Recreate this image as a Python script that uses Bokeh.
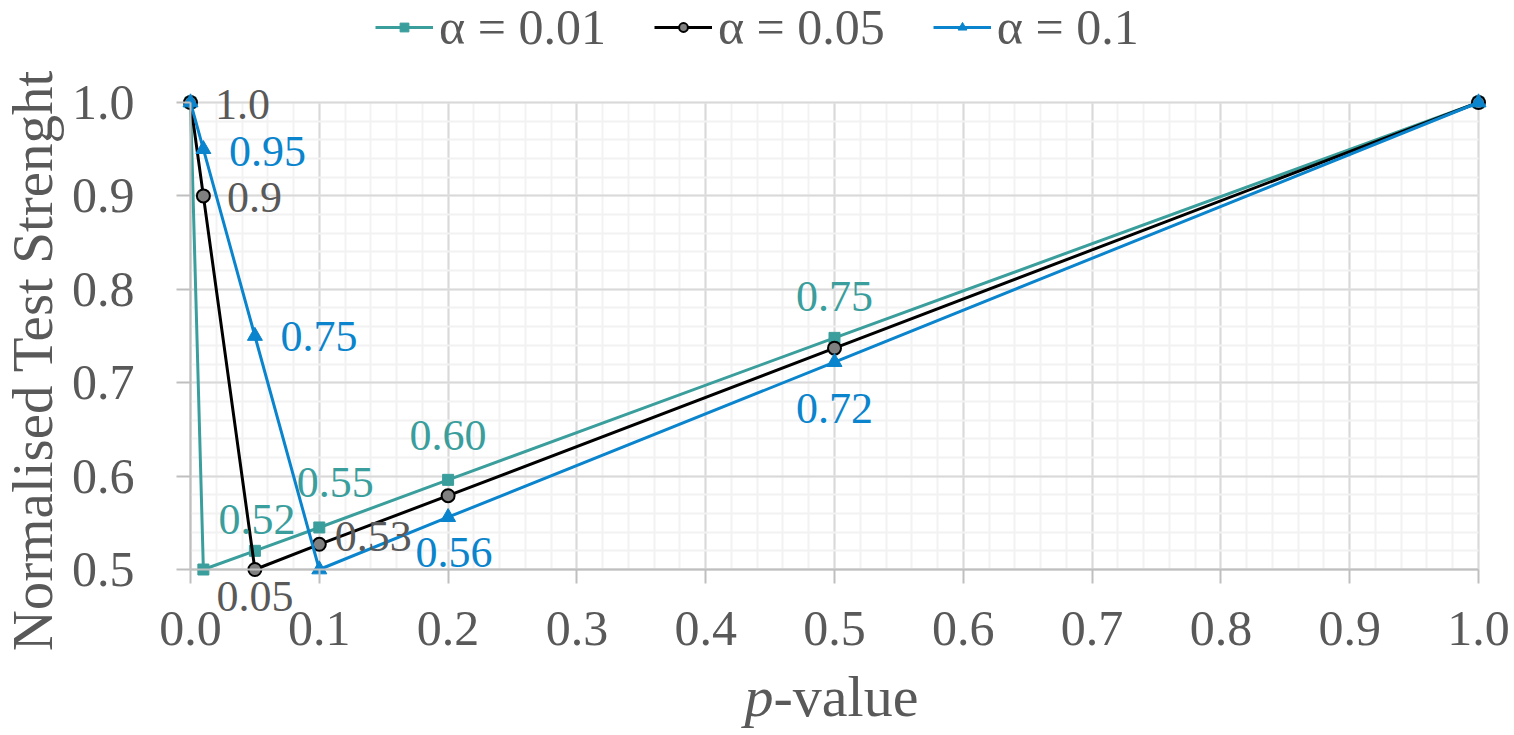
import math
from bokeh.plotting import figure
from bokeh.models import (ColumnDataSource, LinearAxis, Grid, FixedTicker, NumeralTickFormatter,
                          Legend, LegendItem, LabelSet, Label, Range1d)
from bokeh.core.properties import value
from bokeh.embed import file_html
from bokeh.resources import INLINE

# ---------------- data ----------------
p_values = [0.0, 0.01, 0.05, 0.1, 0.2, 0.5, 1.0]
strength_a001 = [1.0, 0.5, 0.52, 0.545, 0.596, 0.748, 1.0]
strength_a005 = [1.0, 0.9, 0.5, 0.527, 0.579, 0.737, 1.0]
strength_a01 = [1.0, 0.95, 0.75, 0.5, 0.556, 0.722, 1.0]
series_names = ["α = 0.01", "α = 0.05", "α = 0.1"]

# data labels: index of labelled point and text shown
lab_idx_a001 = [2, 3, 4, 5]
lab_txt_a001 = ["0.52", "0.55", "0.60", "0.75"]
lab_idx_a005 = [0, 1, 2, 3]
lab_txt_a005 = ["1.0", "0.9", "0.05", "0.53"]
lab_idx_a01 = [1, 2, 4, 5]
lab_txt_a01 = ["0.95", "0.75", "0.56", "0.72"]

x_ticks = [0.0, 0.1, 0.2, 0.3, 0.4, 0.5, 0.6, 0.7, 0.8, 0.9, 1.0]
y_ticks = [0.5, 0.6, 0.7, 0.8, 0.9, 1.0]
x_minor = [round(i * 0.02, 2) for i in range(0, 51)]
y_minor = [round(0.5 + i * 0.02, 2) for i in range(0, 26)]

# ---------------- style ----------------
TEAL = "#3A9E9C"
BLUE = "#0A84CC"
BLACK = "#000000"
GRAY_TXT = "#595959"
FONT = "Liberation Serif"

W, H = 1514, 735
# frame covers whole canvas; data region placed with pixel calibration
X0_PX, X1_PX = 190.0, 1478.0   # px of x=0 and x=1
Y1_PX, Y05_PX = 102.0, 569.0   # px (from top) of y=1.0 and y=0.5
sx = (X1_PX - X0_PX) / 1.0
sy = (Y05_PX - Y1_PX) / 0.5
x_rng = Range1d(0 - X0_PX / sx, 0 + (W - X0_PX) / sx)
y_rng = Range1d(0.5 - (H - Y05_PX) / sy, 1.0 + Y1_PX / sy)

p = figure(frame_width=W, frame_height=H, x_range=x_rng, y_range=y_rng,
           x_axis_type=None, y_axis_type=None, output_backend="svg",
           toolbar_location=None, min_border=0)
p.outline_line_color = None
p.background_fill_color = "white"
p.border_fill_color = "white"

x_ticker = FixedTicker(ticks=x_ticks, minor_ticks=x_minor)
y_ticker = FixedTicker(ticks=y_ticks, minor_ticks=y_minor)

gx = Grid(dimension=0, ticker=x_ticker, bounds=(0.0, 1.0), cross_bounds=(0.5, 1.0),
          grid_line_color="#D9D9D9", grid_line_width=2,
          minor_grid_line_color="#F2F2F2", minor_grid_line_width=2)
gy = Grid(dimension=1, ticker=y_ticker, bounds=(0.5, 1.0), cross_bounds=(0.0, 1.0),
          grid_line_color="#D9D9D9", grid_line_width=2,
          minor_grid_line_color="#F2F2F2", minor_grid_line_width=2)
p.add_layout(gx)
p.add_layout(gy)

fmt = NumeralTickFormatter(format="0.0")
yaxis = LinearAxis(fixed_location=0.0, bounds=(0.5, 1.0), ticker=y_ticker, formatter=fmt)
xaxis = LinearAxis(fixed_location=0.5, bounds=(0.0, 1.0), ticker=x_ticker, formatter=fmt)
for ax, standoff in ((yaxis, 42), (xaxis, 28)):
    ax.axis_line_color = "#BFBFBF"
    ax.axis_line_width = 2
    ax.major_tick_line_color = "#BFBFBF"
    ax.major_tick_line_width = 2
    ax.major_tick_out = 14
    ax.major_tick_in = 0
    ax.minor_tick_line_color = None
    ax.major_label_text_font = FONT
    ax.major_label_text_font_size = "50px"
    ax.major_label_text_color = GRAY_TXT
    ax.major_label_standoff = standoff
p.add_layout(yaxis, "left")
p.add_layout(xaxis, "below")

src1 = ColumnDataSource(dict(x=p_values, y=strength_a001))
src2 = ColumnDataSource(dict(x=p_values, y=strength_a005))
src3 = ColumnDataSource(dict(x=p_values, y=strength_a01))

l1 = p.line("x", "y", source=src1, line_color=TEAL, line_width=3)
m1 = p.scatter("x", "y", source=src1, marker="square", size=11, fill_color=TEAL, line_color=TEAL)
l2 = p.line("x", "y", source=src2, line_color=BLACK, line_width=3)
m2 = p.scatter("x", "y", source=src2, marker="circle", size=13, fill_color="#808080",
               line_color=BLACK, line_width=2)
l3 = p.line("x", "y", source=src3, line_color=BLUE, line_width=3)
m3 = p.scatter("x", "y", source=src3, marker="triangle", size=15, fill_color=BLUE, line_color=BLUE)

# label pixel offsets (text centre relative to point), style only
off_a001 = [(2, 31), (16, 45), (0, 44), (0, 41)]
off_a005 = [(52, -2), (51, -2), (0, -27), (54, 8)]
off_a01 = [(64, -2), (64, 0), (6, -35), (0, -46)]

def add_labels(xs, ys, idx, txt, offs, color):
    s = ColumnDataSource(dict(x=[xs[i] for i in idx], y=[ys[i] for i in idx], t=txt,
                              dx=[o[0] for o in offs], dy=[o[1] for o in offs]))
    ls = LabelSet(x="x", y="y", text="t", x_offset="dx", y_offset="dy", source=s,
                  text_align="center", text_baseline="middle",
                  text_font=value(FONT), text_font_size="44px", text_color=color)
    p.add_layout(ls)

add_labels(p_values, strength_a001, lab_idx_a001, lab_txt_a001, off_a001, TEAL)
add_labels(p_values, strength_a005, lab_idx_a005, lab_txt_a005, off_a005, GRAY_TXT)
add_labels(p_values, strength_a01, lab_idx_a01, lab_txt_a01, off_a01, BLUE)

legend = Legend(items=[LegendItem(label=series_names[0], renderers=[l1, m1]),
                       LegendItem(label=series_names[1], renderers=[l2, m2]),
                       LegendItem(label=series_names[2], renderers=[l3, m3])],
                orientation="horizontal", location=(375, H - 56),
                border_line_color=None, background_fill_alpha=0,
                padding=0, margin=0, spacing=48, glyph_width=58, glyph_height=22,
                label_standoff=6, label_text_font=FONT, label_text_font_size="50px",
                label_text_color=GRAY_TXT, label_text_baseline="middle")
p.add_layout(legend)

# axis titles
p.add_layout(Label(x=32, y=H - 360, x_units="screen", y_units="screen",
                   text="Normalised Test Strenght", angle=math.pi / 2,
                   text_align="center", text_baseline="middle",
                   text_font=FONT, text_font_size="57px", text_color=GRAY_TXT))
p.add_layout(Label(x=744, y=H - 696, x_units="screen", y_units="screen", text="p",
                   text_align="left", text_baseline="alphabetic", text_font_style="italic",
                   text_font=FONT, text_font_size="58px", text_color=GRAY_TXT))
p.add_layout(Label(x=773, y=H - 696, x_units="screen", y_units="screen", text="-value",
                   text_align="left", text_baseline="alphabetic",
                   text_font=FONT, text_font_size="58px", text_color=GRAY_TXT))

open("out.html", "w").write(file_html(p, INLINE))
